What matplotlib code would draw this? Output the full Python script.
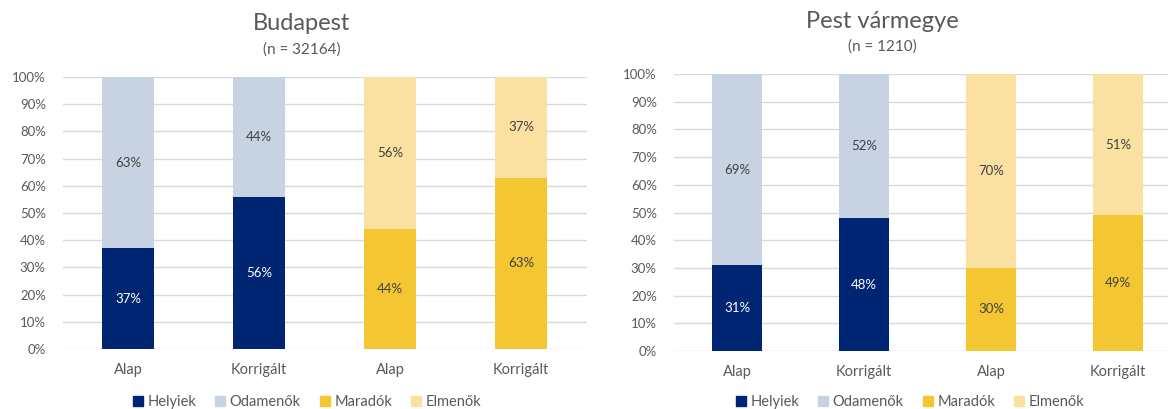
import numpy as np
import matplotlib.pyplot as plt
from matplotlib.patches import Patch

plt.rcParams['font.family'] = ['Lato', 'DejaVu Sans']

kategoriak = ['Alap', 'Korrigált', 'Alap', 'Korrigált']
sorozatok = ['Helyiek', 'Odamenők', 'Maradók', 'Elmenők']
szinek = ['#002572', '#C7D3E3', '#F4C632', '#FAE1A2']

# alsó szegmens (Helyiek / Maradók), felső (Odamenők / Elmenők)
bp_also = [37, 56, 44, 63]
bp_felso = [63, 44, 56, 37]
pest_also = [31, 48, 30, 49]
pest_felso = [69, 52, 70, 51]

cimek = ['Budapest', 'Pest vármegye']
n_ertekek = [32164, 1210]

szurke = '#595959'
felirat = '#404040'

fig = plt.figure(figsize=(11.68, 4.09), dpi=100)
W, H = 1168, 409

def panel(bal, jobb, also_px, felso_px, also, felso, cim, n, cim_x, cim_y, leg_x):
    ax = fig.add_axes([bal / W, 1 - also_px / H, (jobb - bal) / W, (also_px - felso_px) / H])
    x = np.arange(len(kategoriak))
    also_szin = [szinek[0], szinek[0], szinek[2], szinek[2]]
    felso_szin = [szinek[1], szinek[1], szinek[3], szinek[3]]
    ax.bar(x, also, width=0.4, color=also_szin, zorder=2)
    ax.bar(x, felso, width=0.4, bottom=also, color=felso_szin, zorder=2)
    for i in range(len(x)):
        c = 'white' if i < 2 else felirat
        ax.text(x[i], also[i] / 2, f'{also[i]}%', ha='center', va='center',
                color=c, fontsize=9.5)
        ax.text(x[i], also[i] + felso[i] / 2, f'{felso[i]}%', ha='center',
                va='center', color=felirat, fontsize=9.5)
    ax.set_xlim(-0.5, 3.5)
    ax.set_ylim(0, 100)
    ax.set_yticks(range(0, 101, 10))
    ax.set_yticklabels([f'{v}%' for v in range(0, 101, 10)])
    ax.set_xticks(x)
    ax.set_xticklabels(kategoriak)
    ax.grid(axis='y', color='#D9D9D9', linewidth=1, zorder=0)
    for s in ax.spines.values():
        s.set_visible(False)
    ax.tick_params(axis='y', length=0, labelsize=9.5, labelcolor=szurke, pad=12)
    ax.tick_params(axis='x', length=0, labelsize=10.5, labelcolor=szurke, pad=10)
    fig.text(cim_x / W, 1 - cim_y / H, cim, ha='center', va='center',
             fontsize=17, color=szurke)
    fig.text(cim_x / W, 1 - (cim_y + 26) / H, f'(n = {n})', ha='center', va='center',
             fontsize=11, color=szurke)
    kezelok = [Patch(color=s) for s in szinek]
    fig.legend(kezelok, sorozatok, loc='center', bbox_to_anchor=(leg_x / W, 1 - 402 / H),
               ncol=4, frameon=False, fontsize=10.5, labelcolor=szurke,
               handlelength=0.7, handleheight=0.7, handletextpad=0.3,
               columnspacing=1.3)
    return ax

panel(62.5, 586.5, 349, 77, bp_also, bp_felso, cimek[0], n_ertekek[0], 302, 24, 307)
panel(673.5, 1181.5, 351, 74, pest_also, pest_felso, cimek[1], n_ertekek[1], 882, 21, 910)

fig.savefig('out.png', dpi=100)
